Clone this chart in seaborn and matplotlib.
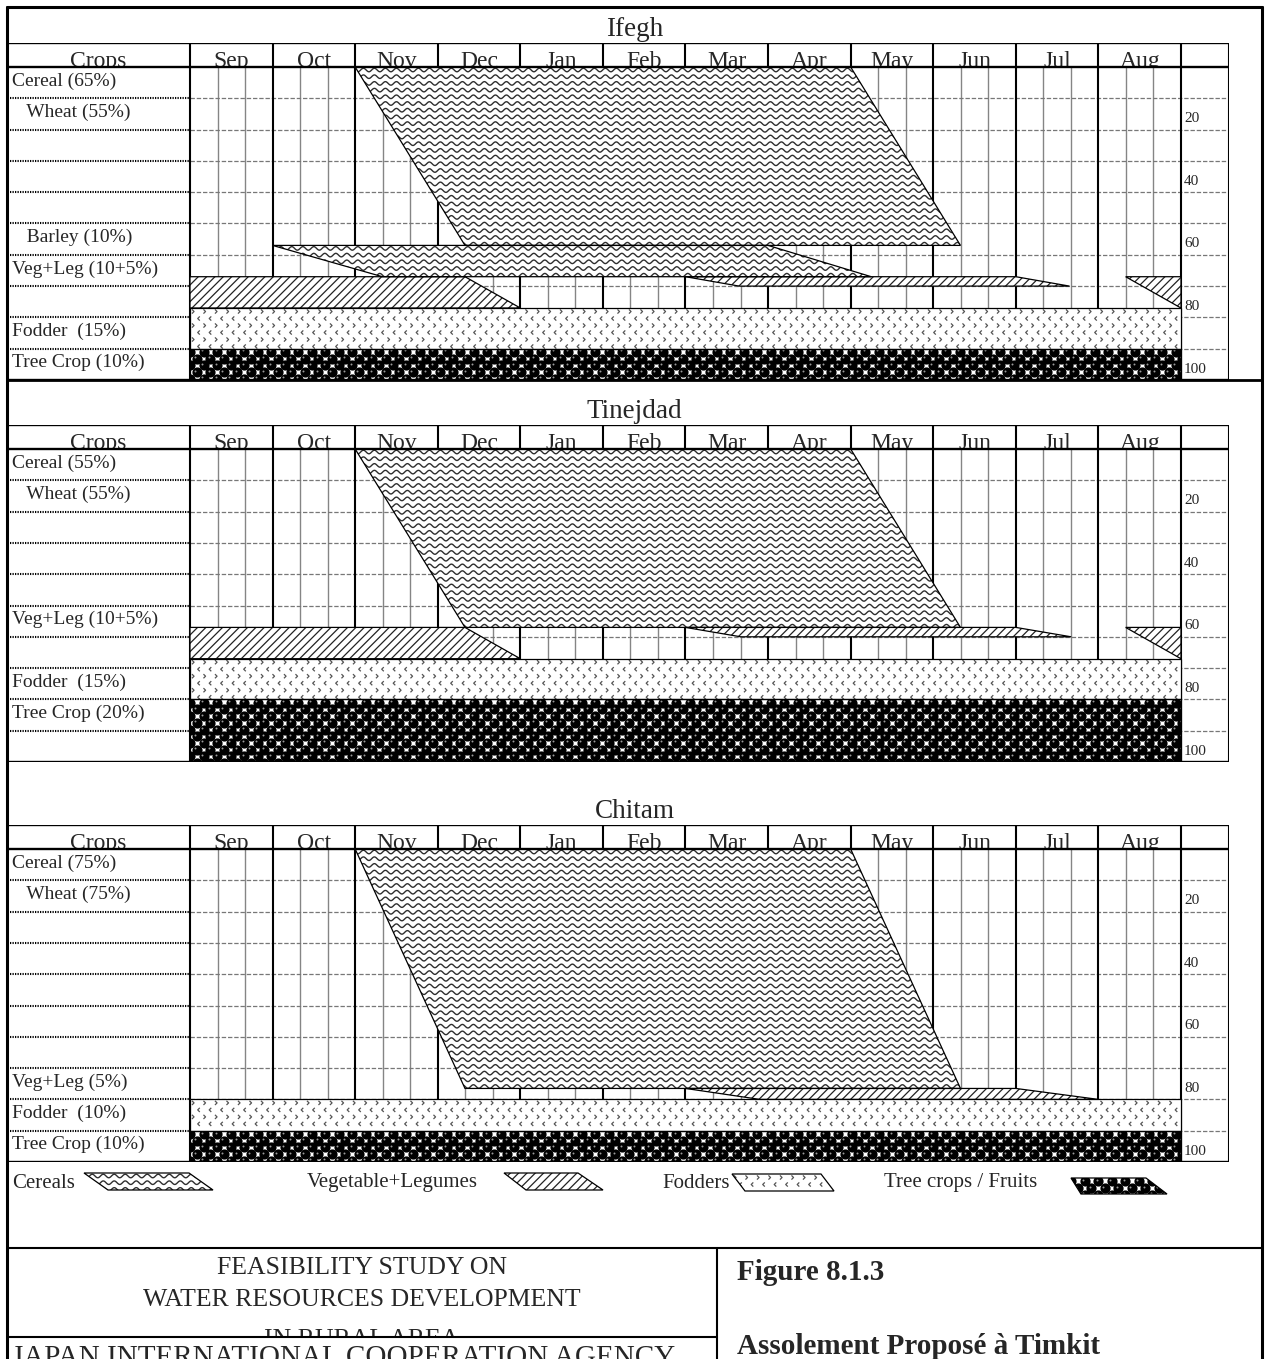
import numpy as np
import matplotlib
matplotlib.use("Agg")
import matplotlib.pyplot as plt
import seaborn as sns
from matplotlib.patches import Polygon, Rectangle
from matplotlib.collections import LineCollection
from matplotlib.path import Path

# ---------------- data ----------------
months = ["Sep", "Oct", "Nov", "Dec", "Jan", "Feb", "Mar", "Apr", "May", "Jun", "Jul", "Aug"]
scale_ticks = [20, 40, 60, 80, 100]
sites = ["Ifegh", "Tinejdad", "Chitam"]

# row labels and the 10 % row each one sits in
ifegh_labels = ["Cereal (65%)", "   Wheat (55%)", "   Barley (10%)", "Veg+Leg (10+5%)",
                "Fodder  (15%)", "Tree Crop (10%)"]
ifegh_label_rows = [1, 2, 6, 7, 9, 10]
tinejdad_labels = ["Cereal (55%)", "   Wheat (55%)", "Veg+Leg (10+5%)", "Fodder  (15%)",
                   "Tree Crop (20%)"]
tinejdad_label_rows = [1, 2, 6, 8, 9]
chitam_labels = ["Cereal (75%)", "   Wheat (75%)", "Veg+Leg (5%)", "Fodder  (10%)",
                 "Tree Crop (10%)"]
chitam_label_rows = [1, 2, 8, 9, 10]

# crop blocks: x = months after 1 Sep, y = cumulative share of the area (%)
ifegh_crop = ["cereal", "cereal", "veg", "veg", "veg", "fodder", "tree"]
ifegh_x = [[2.0, 8.0, 9.33, 3.33], [1.0, 7.0, 8.25, 2.33], [0.0, 3.33, 4.0, 0.0],
           [6.0, 10.0, 10.65, 6.65], [11.33, 12.0, 12.0], [0.0, 12.0, 12.0, 0.0],
           [0.0, 12.0, 12.0, 0.0]]
ifegh_y = [[0, 0, 57, 57], [57, 57, 67, 67], [67, 67, 77, 77], [67, 67, 70, 70],
           [67, 67, 77], [77, 77, 90, 90], [90, 90, 100, 100]]

tinejdad_crop = ["cereal", "veg", "veg", "veg", "fodder", "tree"]
tinejdad_x = [[2.0, 8.0, 9.33, 3.33], [0.0, 3.33, 4.0, 0.0], [6.0, 10.0, 10.67, 6.67],
              [11.33, 12.0, 12.0], [0.0, 12.0, 12.0, 0.0], [0.0, 12.0, 12.0, 0.0]]
tinejdad_y = [[0, 0, 57, 57], [57, 57, 67, 67], [57, 57, 60, 60], [57, 57, 67],
              [67, 67, 80, 80], [80, 80, 100, 100]]

chitam_crop = ["cereal", "veg", "fodder", "tree"]
chitam_x = [[2.0, 8.0, 9.33, 3.33], [6.0, 10.0, 11.0, 6.9], [0.0, 12.0, 12.0, 0.0],
            [0.0, 12.0, 12.0, 0.0]]
chitam_y = [[0, 0, 76.5, 76.5], [76.5, 76.5, 80, 80], [80, 80, 90, 90], [90, 90, 100, 100]]

legend_names = ["Cereals", "Vegetable+Legumes", "Fodders", "Tree crops / Fruits"]
legend_crop = ["cereal", "veg", "fodder", "tree"]

# ---------------- layout ----------------
W, H = 1267, 1359
PX_M, PX_P = 82.58, 3.13      # pixels per month, pixels per percent
MONTH0 = 190                  # pixel of 1 Sep
BOX_L, BOX_R = 7, 1229
HEAD = 24
header_tops = [43, 425, 825]

sns.set_theme(style="white")
plt.rcParams["font.family"] = ["Liberation Serif", "DejaVu Serif"]
plt.rcParams["hatch.linewidth"] = 0.9

fig = plt.figure(figsize=(W / 100, H / 100), dpi=100)

CHEV_R = Path([(-0.5, 1), (0.5, 0), (-0.5, -1)], [Path.MOVETO, Path.LINETO, Path.LINETO])
CHEV_L = Path([(0.5, 1), (-0.5, 0), (0.5, -1)], [Path.MOVETO, Path.LINETO, Path.LINETO])


def wave_texture(ax, clip, x0, x1, y0, y1, sx, sy):
    t = np.arange(x0, x1 + 2 / sx, 1 / sx)
    segs = [np.column_stack([t, yy + 1.8 / sy * np.sin(2 * np.pi * (t - x0) * sx / 11.0)])
            for yy in np.arange(y0 + 3 / sy, y1 + 3 / sy, 6.7 / sy)]
    lc = LineCollection(segs, colors="#2e2e2e", linewidths=1.0, zorder=3.5)
    ax.add_collection(lc, autolim=False)
    lc.set_clip_path(clip)


def chevron_texture(ax, clip, x0, x1, y0, y1, sx, sy):
    for i, yy in enumerate(np.arange(y0 + 3.5 / sy, y1, 7.0 / sy)):
        cols = np.arange(x0 + (3 + (i % 2) * 5.75) / sx, x1, 11.5 / sx)
        sc = ax.scatter(cols, np.full(len(cols), yy), marker=CHEV_R if i % 2 == 0 else CHEV_L,
                        s=9, facecolors="none", edgecolors="#555555", linewidths=0.9, zorder=3.5)
        sc.set_clip_path(clip)


def ball_texture(ax, clip, x0, x1, y0, y1, sx, sy):
    bx, by = [], []
    for i, yy in enumerate(np.arange(y0 + 3.3 / sy, y1 + 4 / sy, 6.7 / sy)):
        for xx in np.arange(x0 + (i % 2) * 6.75 / sx, x1 + 7 / sx, 13.5 / sx):
            bx.append(xx)
            by.append(yy)
    sns.scatterplot(x=bx, y=by, ax=ax, s=54, color="black", linewidth=0, legend=False, zorder=3.5)
    ax.collections[-1].set_clip_path(clip)
    hl = ax.scatter(np.array(bx) - 1.5 / sx, np.array(by) - 1.5 / sy, s=2, color="#9a9a9a",
                    linewidths=0, zorder=3.6)
    hl.set_clip_path(clip)


def draw_block(ax, xs, ys, crop, sx, sy):
    pts = np.column_stack([xs, ys])
    base = Polygon(pts, closed=True, facecolor="white", edgecolor="none", zorder=3)
    ax.add_patch(base)
    x0, x1, y0, y1 = min(xs), max(xs), min(ys), max(ys)
    if crop == "cereal":
        wave_texture(ax, base, x0, x1, y0, y1, sx, sy)
    elif crop == "veg":
        ax.add_patch(Polygon(pts, closed=True, facecolor="none", edgecolor="#222222",
                             hatch="////", linewidth=0, zorder=3.5))
    elif crop == "fodder":
        chevron_texture(ax, base, x0, x1, y0, y1, sx, sy)
    else:
        ball_texture(ax, base, x0, x1, y0, y1, sx, sy)
    ax.add_patch(Polygon(pts, closed=True, fill=False, edgecolor="black", linewidth=0.9, zorder=4))


panels = [
    (ifegh_labels, ifegh_label_rows, ifegh_crop, ifegh_x, ifegh_y),
    (tinejdad_labels, tinejdad_label_rows, tinejdad_crop, tinejdad_x, tinejdad_y),
    (chitam_labels, chitam_label_rows, chitam_crop, chitam_x, chitam_y),
]

for top, (labels, label_rows, crops, bx, by) in zip(header_tops, panels):
    ax = fig.add_axes([BOX_L / W, 1 - (top + HEAD + 313) / H, (BOX_R - BOX_L) / W, (HEAD + 313) / H])
    xl, xr = (BOX_L - MONTH0) / PX_M, (BOX_R - MONTH0) / PX_M
    yt = -HEAD / PX_P
    ax.set_xlim(xl, xr)
    ax.set_ylim(100, yt)
    ax.set_autoscale_on(False)
    ax.set_axis_off()

    # dekad lines
    for m in range(12):
        for f in (1 / 3, 2 / 3):
            ax.plot([m + f, m + f], [0, 100], color="#858585", lw=1.0, zorder=1)
    # 10 % lines
    for v in range(10, 100, 10):
        ax.plot([0, xr], [v, v], color="#777777", lw=0.9, ls=(0, (3.5, 1.5)), zorder=1.2)
        ax.plot([xl + 3 / PX_M, 0], [v, v], color="black", lw=1.5, ls=(0, (0.6, 0.6)), zorder=1.2)
    # month boundaries
    for m in range(13):
        ax.plot([m, m], [yt, 100], color="black", lw=1.5, zorder=1.5)
    ax.plot([xr, xr], [yt, 100], color="black", lw=1.5, zorder=6)
    for v in (yt, 0, 100):
        ax.plot([xl, xr], [v, v], color="black", lw=1.7, zorder=6)

    # header, cut at the bottom line as in the original table
    head_clip = Rectangle((xl, yt), xr - xl, -yt, transform=ax.transData)
    heads = [ax.text((xl + 0) / 2, -0.1, "Crops", ha="center", va="baseline", fontsize=17)]
    for m, name in enumerate(months):
        heads.append(ax.text(m + 0.5, -0.1, name, ha="center", va="baseline", fontsize=17))
    for t in heads:
        t.set_clip_on(True)
        t.set_clip_path(head_clip)

    # right scale
    for v in scale_ticks:
        ax.text(12 + 3 / PX_M, v - 3.5, str(v), ha="left", va="center", fontsize=11)

    # row labels
    for lab, r in zip(labels, label_rows):
        ax.text(xl + 5 / PX_M, r * 10 - 5.5, lab, ha="left", va="center", fontsize=14)

    for crop, xs, ys in zip(crops, bx, by):
        draw_block(ax, xs, ys, crop, PX_M, PX_P)

# ---------------- frame, titles, legend, title block ----------------
ov = fig.add_axes([0, 0, 1, 1], zorder=10)
ov.set_xlim(0, W)
ov.set_ylim(H, 0)
ov.set_autoscale_on(False)
ov.set_axis_off()

for xs, ys, lw in [([7, 7], [7, H], 2.2), ([1262, 1262], [7, H], 2.2), ([7, 1262], [7, 7], 2.2),
                   ([7, 1262], [380, 380], 2.0), ([7, 1262], [1248, 1248], 1.5),
                   ([717, 717], [1248, H], 1.5), ([7, 717], [1337, 1337], 1.5)]:
    ov.plot(xs, ys, color="black", lw=lw)

for name, top in zip(sites, header_tops):
    ov.text(634.5, top - 7, name, ha="center", va="baseline", fontsize=19.5)

legend_text_x = [12, 307, 662, 884]
legend_keys = [
    [(84, 1173), (189, 1173), (213, 1190), (108, 1190)],
    [(504, 1173), (578, 1173), (603, 1190), (526, 1190)],
    [(732, 1174), (821, 1174), (834, 1191), (745, 1191)],
    [(1071, 1178), (1146, 1178), (1167, 1194), (1081, 1194)],
]
for name, crop, tx, key in zip(legend_names, legend_crop, legend_text_x, legend_keys):
    ov.text(tx, 1183, name, ha="left", va="center", fontsize=15)
    kx, ky = zip(*key)
    draw_block(ov, list(kx), list(ky), crop, 1, 1)

ov.text(362, 1268, "FEASIBILITY STUDY ON", ha="center", va="center", fontsize=18.5)
ov.text(362, 1300, "WATER RESOURCES DEVELOPMENT", ha="center", va="center", fontsize=18.5)
rural = ov.text(362, 1346, "IN RURAL AREA", ha="center", va="baseline", fontsize=18.5)
rural.set_clip_on(True)
rural.set_clip_path(Rectangle((7, 1248), 710, 88, transform=ov.transData))
ov.text(12, 1365, "JAPAN INTERNATIONAL COOPERATION AGENCY", ha="left", va="baseline", fontsize=21)
ov.text(737, 1273, "Figure 8.1.3", ha="left", va="center", fontsize=21, fontweight="bold")
ov.text(737, 1346, "Assolement Proposé à Timkit", ha="left", va="center", fontsize=21,
        fontweight="bold")

fig.savefig("out.png", dpi=100)
